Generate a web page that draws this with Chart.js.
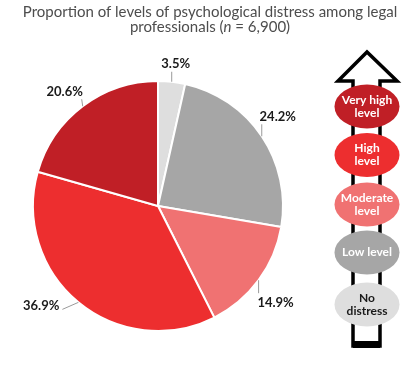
<!DOCTYPE html>
<html>
<head>
<meta charset="utf-8">
<script src="https://cdn.jsdelivr.net/npm/chart.js@4"></script>
<style>
  html, body { margin: 0; padding: 0; background: #fff; }
  #wrap { width: 417px; height: 371px; }
</style>
</head>
<body>
<div id="wrap"><canvas id="chart" width="417" height="371"></canvas></div>
<script>

// data (clockwise from 12 o'clock)
const categories = ["No distress", "Low level", "Moderate level", "High level", "Very high level"];
const percentages = [3.5, 24.2, 14.9, 36.9, 20.6];
const sliceColors = ["#dedede", "#a6a6a6", "#f07272", "#ed2e2f", "#c01f26"];

// legend on the arrow, top to bottom
const legendLines = [["Very high", "level"], ["High", "level"], ["Moderate", "level"], ["Low level"], ["No", "distress"]];
const legendColors = ["#c01f26", "#ed2e2f", "#f07272", "#a6a6a6", "#dedede"];
const legendTextColors = ["#fff", "#fff", "#fff", "#fff", "#1a1a1a"];

const titleLine1 = "Proportion of levels of psychological distress among legal";

// leader stub (from slice edge) and label offset (from stub end), per slice
const labelPlacement = [
    { stub: [0, -10], text: [4, -8], align: "center" },
    { stub: [0, -12], text: [16, -7], align: "center" },
    { stub: [0, 13], text: [17, 10], align: "center" },
    { stub: [-16, 7], text: [-3, -4], align: "right" },
    { stub: [-1, -7], text: [-17, -7], align: "center" }
];

const labelPlugin = {
    id: "sliceLabels",
    afterDatasetsDraw: function (chart) {
        var ctx = chart.ctx;
        var meta = chart.getDatasetMeta(0);
        ctx.save();
        meta.data.forEach(function (arc, i) {
            var p = arc.getProps(["x", "y", "startAngle", "endAngle", "outerRadius"], true);
            var mid = (p.startAngle + p.endAngle) / 2;
            var ex = p.x + Math.cos(mid) * p.outerRadius;
            var ey = p.y + Math.sin(mid) * p.outerRadius;
            var pl = labelPlacement[i];
            var sx = ex + pl.stub[0];
            var sy = ey + pl.stub[1];
            ctx.strokeStyle = "#9a9a9a";
            ctx.lineWidth = 1;
            ctx.beginPath();
            ctx.moveTo(ex, ey);
            ctx.lineTo(sx, sy);
            ctx.stroke();
            ctx.fillStyle = "#1a1a1a";
            ctx.font = "bold 13px Lato";
            ctx.textAlign = pl.align;
            ctx.textBaseline = "middle";
            ctx.fillText(percentages[i].toFixed(1) + "%", sx + pl.text[0], sy + pl.text[1]);
        });
        ctx.restore();
    }
};

const decorPlugin = {
    id: "decor",
    afterDraw: function (chart) {
        var ctx = chart.ctx;
        ctx.save();

        // title
        ctx.fillStyle = "#4d4d4d";
        ctx.font = "15px Lato";
        ctx.textAlign = "center";
        ctx.textBaseline = "alphabetic";
        ctx.fillText(titleLine1, 210, 17);
        var parts = [["professionals (", "15px Lato"], ["n", "italic 15px Lato"], [" = 6,900)", "15px Lato"]];
        var total = 0;
        parts.forEach(function (p) { ctx.font = p[1]; total += ctx.measureText(p[0]).width; });
        var x = 210 - total / 2;
        ctx.textAlign = "left";
        parts.forEach(function (p) {
            ctx.font = p[1];
            ctx.fillText(p[0], x, 32);
            x += ctx.measureText(p[0]).width;
        });

        // arrow
        ctx.lineWidth = 3.5;
        ctx.strokeStyle = "#000";
        ctx.fillStyle = "#fff";
        ctx.lineJoin = "miter";
        ctx.beginPath();
        ctx.moveTo(353, 346);
        ctx.lineTo(353, 81);
        ctx.lineTo(338, 81);
        ctx.lineTo(367, 52);
        ctx.lineTo(397, 81);
        ctx.lineTo(380, 81);
        ctx.lineTo(380, 346);
        ctx.closePath();
        ctx.fill();
        ctx.stroke();
        ctx.fillStyle = "#000";
        ctx.fillRect(353, 341, 27, 7);

        // legend ovals
        var ys = [106.5, 155, 204.5, 252.5, 304.5];
        legendLines.forEach(function (lines, i) {
            ctx.fillStyle = legendColors[i];
            ctx.beginPath();
            ctx.ellipse(367, ys[i], 32.5, 22, 0, 0, Math.PI * 2);
            ctx.fill();
            ctx.fillStyle = legendTextColors[i];
            ctx.font = "bold 12px Lato";
            ctx.textAlign = "center";
            ctx.textBaseline = "middle";
            var start = ys[i] - (lines.length - 1) * 6.5;
            lines.forEach(function (t, j) {
                ctx.fillText(t, 367, start + j * 13);
            });
        });

        ctx.restore();
    }
};

var chart = new Chart(document.getElementById("chart"), {
    type: "pie",
    data: {
        labels: categories,
        datasets: [{
            data: percentages,
            backgroundColor: sliceColors,
            borderColor: "#ffffff",
            borderWidth: 2,
            hoverOffset: 0
        }]
    },
    options: {
        responsive: false,
        animation: false,
        devicePixelRatio: 1,
        events: [],
        radius: 125,
        layout: {
            padding: { left: 33, right: 134, top: 81, bottom: 40 }
        },
        plugins: {
            legend: { display: false },
            title: { display: false },
            tooltip: { enabled: false }
        }
    },
    plugins: [labelPlugin, decorPlugin]
});
</script>
</body>
</html>
